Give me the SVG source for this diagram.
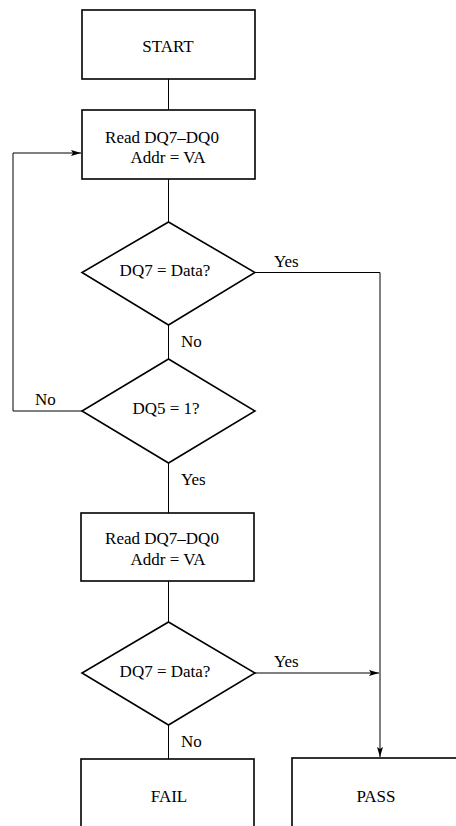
<svg xmlns="http://www.w3.org/2000/svg" width="456" height="826" viewBox="0 0 456 826">
<style>
.box{fill:#fff;stroke:#000;stroke-width:1.6}
.t{font-family:"Liberation Serif","Times New Roman",serif;font-size:17px;fill:#000}
.m{text-anchor:middle}
.c{fill:none;stroke:#000;stroke-width:1}
</style>
<defs>
<marker id="ah" viewBox="0 0 10 6" refX="10" refY="3" markerWidth="10" markerHeight="6" markerUnits="userSpaceOnUse" orient="auto">
<path d="M0,0 L10,3 L0,6 L2,3 Z" fill="#000"/>
</marker>
</defs>
<rect width="456" height="826" fill="#fff"/>
<g id="connectors">
<line class="c" x1="168.5" y1="79" x2="168.5" y2="110"/>
<line class="c" x1="168.5" y1="179" x2="168.5" y2="222"/>
<line class="c" x1="168.5" y1="325" x2="168.5" y2="359"/>
<line class="c" x1="168.5" y1="463" x2="168.5" y2="513"/>
<line class="c" x1="168.5" y1="581" x2="168.5" y2="622"/>
<line class="c" x1="168.5" y1="725" x2="168.5" y2="759"/>
<polyline class="c" points="82,411 13,411 13,153 81,153" marker-end="url(#ah)"/>
<polyline class="c" points="255,272.5 380,272.5 380,757" marker-end="url(#ah)"/>
<line class="c" x1="255" y1="673" x2="379" y2="673" marker-end="url(#ah)"/>
<text class="t" x="274" y="267">Yes</text>
<text class="t" x="181" y="347">No</text>
<text class="t" x="35" y="405">No</text>
<text class="t" x="181" y="485">Yes</text>
<text class="t" x="274" y="667">Yes</text>
<text class="t" x="181" y="747">No</text>
</g>
<g id="start">
<rect class="box" x="82" y="10" width="173" height="69"/>
<text class="t m" x="168" y="52">START</text>
</g>
<g id="read1">
<rect class="box" x="82" y="110" width="173" height="69"/>
<text class="t m" x="162" y="143">Read DQ7–DQ0</text>
<text class="t m" x="168" y="163">Addr = VA</text>
</g>
<g id="dec1">
<polygon class="box" points="168.5,222 255,272.5 168.5,325 82,272.5"/>
<text class="t m" x="165" y="276">DQ7 = Data?</text>
</g>
<g id="dec2">
<polygon class="box" points="168.5,359 255,411 168.5,463 82,411"/>
<text class="t m" x="166" y="414">DQ5 = 1?</text>
</g>
<g id="read2">
<rect class="box" x="81" y="513" width="173" height="68"/>
<text class="t m" x="162" y="544">Read DQ7–DQ0</text>
<text class="t m" x="168" y="565">Addr = VA</text>
</g>
<g id="dec3">
<polygon class="box" points="168.5,622 255,673 168.5,725 82,673"/>
<text class="t m" x="165" y="677">DQ7 = Data?</text>
</g>
<g id="fail">
<rect class="box" x="81" y="759" width="173" height="90"/>
<text class="t m" x="169" y="802">FAIL</text>
</g>
<g id="pass">
<rect class="box" x="292" y="758" width="190" height="90"/>
<text class="t m" x="376" y="802">PASS</text>
</g>
</svg>
